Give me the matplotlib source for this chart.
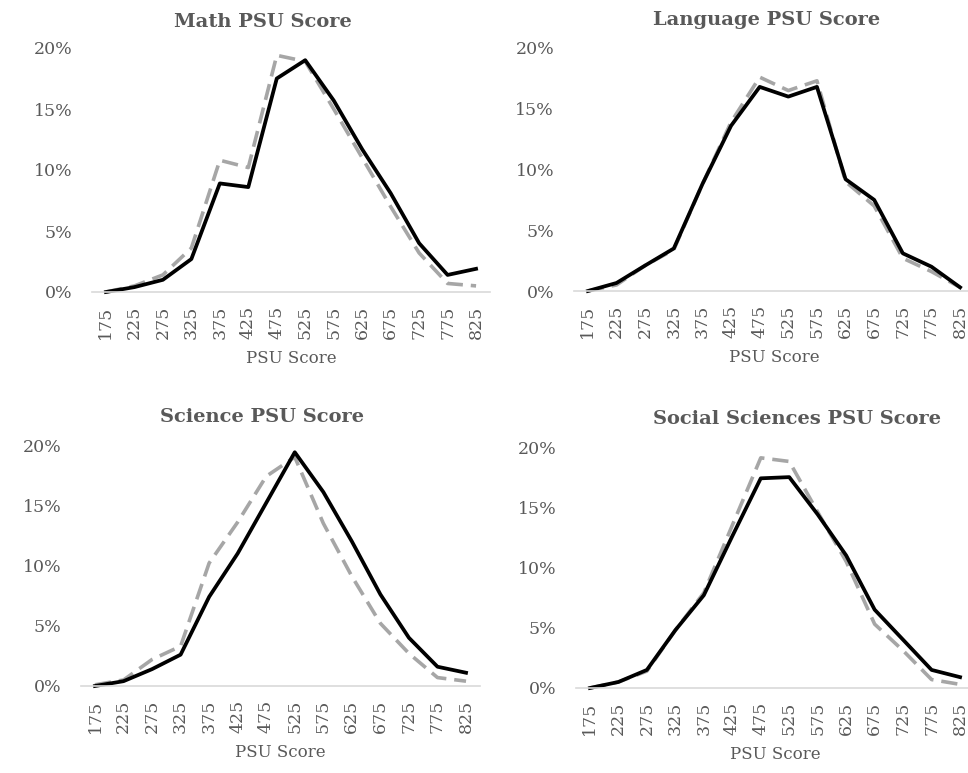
import numpy as np
import matplotlib
matplotlib.use("Agg")
import matplotlib.pyplot as plt
from matplotlib.ticker import PercentFormatter

scores = ["175", "225", "275", "325", "375", "425", "475", "525",
          "575", "625", "675", "725", "775", "825"]

# percent of students per PSU score bin (solid black / dashed gray)
math_black = [0.0, 0.4, 1.0, 2.7, 8.9, 8.6, 17.5, 19.0, 15.7, 11.7, 8.1, 4.0, 1.4, 1.9]
math_gray = [0.0, 0.5, 1.4, 3.6, 10.8, 10.2, 19.4, 18.9, 15.0, 11.0, 7.0, 3.2, 0.7, 0.5]

lang_black = [0.0, 0.66, 2.1, 3.5, 8.8, 13.6, 16.8, 16.0, 16.8, 9.2, 7.5, 3.1, 2.0, 0.3]
lang_gray = [0.0, 0.5, 2.1, 3.4, 8.8, 13.9, 17.6, 16.5, 17.3, 9.0, 7.0, 2.7, 1.6, 0.3]

sci_black = [0.0, 0.4, 1.4, 2.6, 7.4, 11.0, 15.2, 19.4, 16.1, 12.0, 7.6, 4.0, 1.6, 1.1]
sci_gray = [0.1, 0.5, 2.2, 3.3, 10.2, 13.6, 17.4, 19.0, 13.5, 9.1, 5.2, 2.7, 0.7, 0.4]

soc_black = [0.0, 0.5, 1.5, 4.8, 7.7, 12.6, 17.4, 17.5, 14.4, 11.0, 6.5, 4.0, 1.5, 0.9]
soc_gray = [0.0, 0.5, 1.4, 4.8, 7.9, 13.5, 19.1, 18.8, 14.6, 10.5, 5.3, 3.1, 0.7, 0.3]

W, H = 968, 773
TXT = "#595959"
serif = ["DejaVu Serif"]

fig = plt.figure(figsize=(W / 100, H / 100), dpi=100)


def panel(px_left, px_right, px_zero, px_top, title, title_xy, black, gray):
    ax = fig.add_axes([px_left / W, 1 - px_zero / H,
                       (px_right - px_left) / W, (px_zero - px_top) / H])
    x = np.arange(len(scores))
    ax.plot(x, np.array(gray) / 100, color="#A6A6A6", lw=2.6,
            ls=(0, (4.5, 2.2)), clip_on=False)
    ax.plot(x, np.array(black) / 100, color="black", lw=2.7, clip_on=False)
    ax.set_xlim(-0.5, len(scores) - 0.5)
    ax.set_ylim(0, 0.20)
    ax.set_yticks([0, 0.05, 0.10, 0.15, 0.20])
    ax.yaxis.set_major_formatter(PercentFormatter(1.0, decimals=0))
    ax.set_xticks(x)
    ax.set_xticklabels(scores, rotation=90)
    for s in ["top", "right", "left"]:
        ax.spines[s].set_visible(False)
    ax.spines["bottom"].set_color("#D9D9D9")
    ax.spines["bottom"].set_linewidth(1.2)
    ax.tick_params(axis="both", length=0, colors=TXT, labelsize=12.5)
    ax.tick_params(axis="y", pad=14)
    ax.tick_params(axis="x", pad=10)
    for lab in ax.get_xticklabels() + ax.get_yticklabels():
        lab.set_family(serif)
    ax.set_xlabel("PSU Score", family=serif, fontsize=12, color=TXT, labelpad=8)
    fig.text(title_xy[0] / W, 1 - title_xy[1] / H, title, family=serif,
             fontsize=14, fontweight="bold", color=TXT, ha="center", va="center")
    return ax


panel(91.7, 490.3, 292, 48, "Math PSU Score", (263, 22), math_black, math_gray)
panel(573.6, 974.4, 291, 48, "Language PSU Score", (767, 20), lang_black, lang_gray)
panel(80.7, 480.3, 686, 445, "Science PSU Score", (262, 417), sci_black, sci_gray)
panel(575.7, 974.3, 688, 447, "Social Sciences PSU Score", (797, 419), soc_black, soc_gray)

fig.savefig("out.png", dpi=100, facecolor="white")
